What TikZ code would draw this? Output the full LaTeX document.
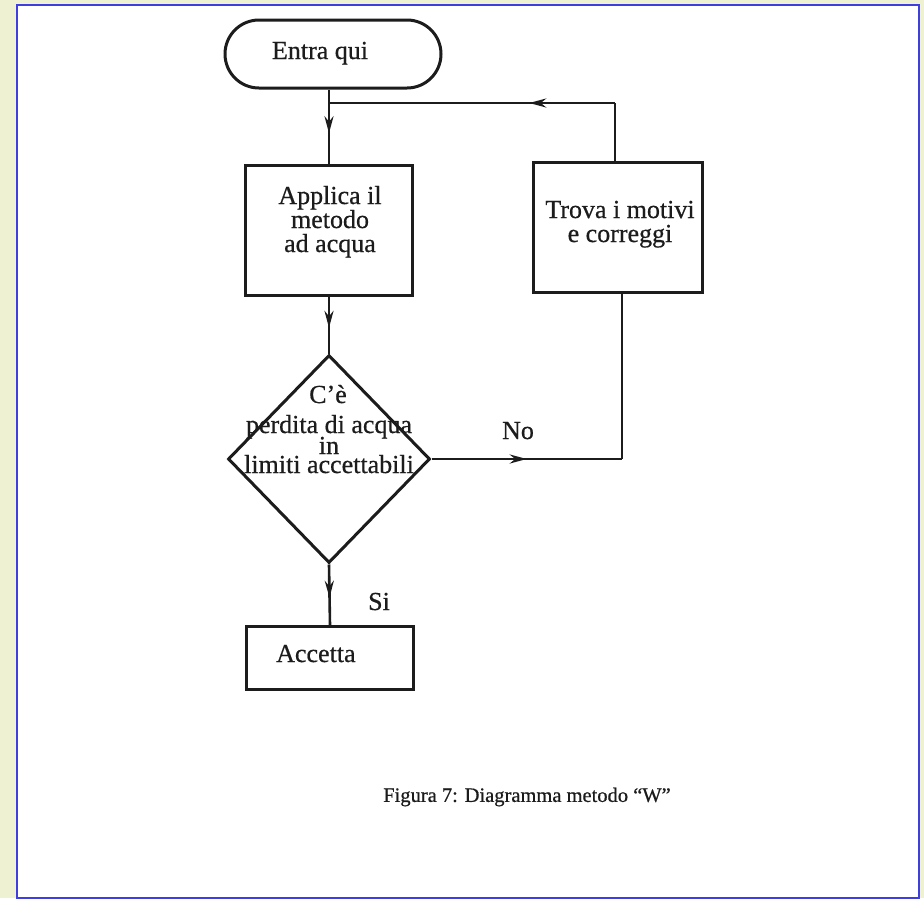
\documentclass[tikz,border=0pt]{standalone}
\usepackage{fontspec}
\setmainfont{Liberation Serif}[FakeBold=0.6]
\usetikzlibrary{shapes.geometric,arrows.meta,decorations.markings}
\definecolor{bgside}{HTML}{EEF2D2}
\definecolor{frameblue}{HTML}{3F3FE0}
\definecolor{ink}{HTML}{1C1C1C}
\tikzset{
  every node/.style={text=ink, font=\fontsize{26}{24}\selectfont},
  box/.style={draw=ink, line width=3pt, rectangle, inner sep=0pt, align=center},
  term/.style={box, rounded corners=34pt},
  dec/.style={draw=ink, line width=3pt, shape=diamond, inner sep=0pt},
  conn/.style={draw=ink, line width=2.6pt},
  midarrow/.style={postaction={decorate}, decoration={markings,
     mark=at position #1 with {\arrow[ink]{Stealth[length=17pt,width=9pt]}}}},
  lbl/.style={inner sep=0pt, anchor=base, align=center},
}
\begin{document}
\begin{tikzpicture}[x=1pt,y=-1pt]
\useasboundingbox (0,0) rectangle (924,898);
\fill[bgside] (0,0) rectangle (924,898);
\filldraw[fill=white, draw=frameblue, line width=2pt] (17,5) rectangle (919,898);

% nodes
\node[term, minimum width=216pt, minimum height=68pt] (ent) at (333,54) {};
\node[lbl] (entt) at (320,59) {Entra qui};
\node[box, minimum width=167pt, minimum height=130pt] (app) at (329,230) {};
\node[lbl] (appt) at (330,252) {Applica il\\metodo\\ad acqua};
\node[box, minimum width=169pt, minimum height=130pt] (tro) at (617.5,227) {};
\node[lbl] (trot) at (620,242) {Trova i motivi\\e correggi};
\node[dec, minimum width=202pt, minimum height=208pt] (dia) at (329,459) {};
\node[lbl] (d1) at (328,403) {C'è};
\node[lbl] (d2) at (329,433) {perdita di acqua};
\node[lbl] (d3) at (329,454) {in};
\node[lbl] (d4) at (329,473) {limiti accettabili};
\node[box, minimum width=167pt, minimum height=63pt] (acc) at (330,658) {};
\node[lbl, anchor=base west] (acct) at (276,662) {Accetta};
\node[lbl] (no) at (518,439) {No};
\node[lbl] (si) at (379,610) {Si};
\node[font=\fontsize{20.5}{24}\selectfont] (cap) at (527,797) {Figura 7: Diagramma metodo “W”};

% junctions
\coordinate (j1) at (329,103);
\coordinate (j2) at (615,103);
\coordinate (j3) at (622,459);

% connectors
\draw[conn] (j1 |- ent.south) -- (j1);
\draw[conn, midarrow=0.5] (j1) -- (app.north);
\draw[conn] (j2 |- tro.north) -- (j2);
\draw[conn, midarrow=0.3] (j2) -- (j1);
\draw[conn, midarrow=0.55] (app.south) -- (dia.north);
\draw[conn, midarrow=0.5] (dia.east) -- (j3);
\draw[conn] (j3) -- (j3 |- tro.south);
\draw[conn, midarrow=0.55] (dia.south) -- (acc.north);
\end{tikzpicture}
\end{document}
